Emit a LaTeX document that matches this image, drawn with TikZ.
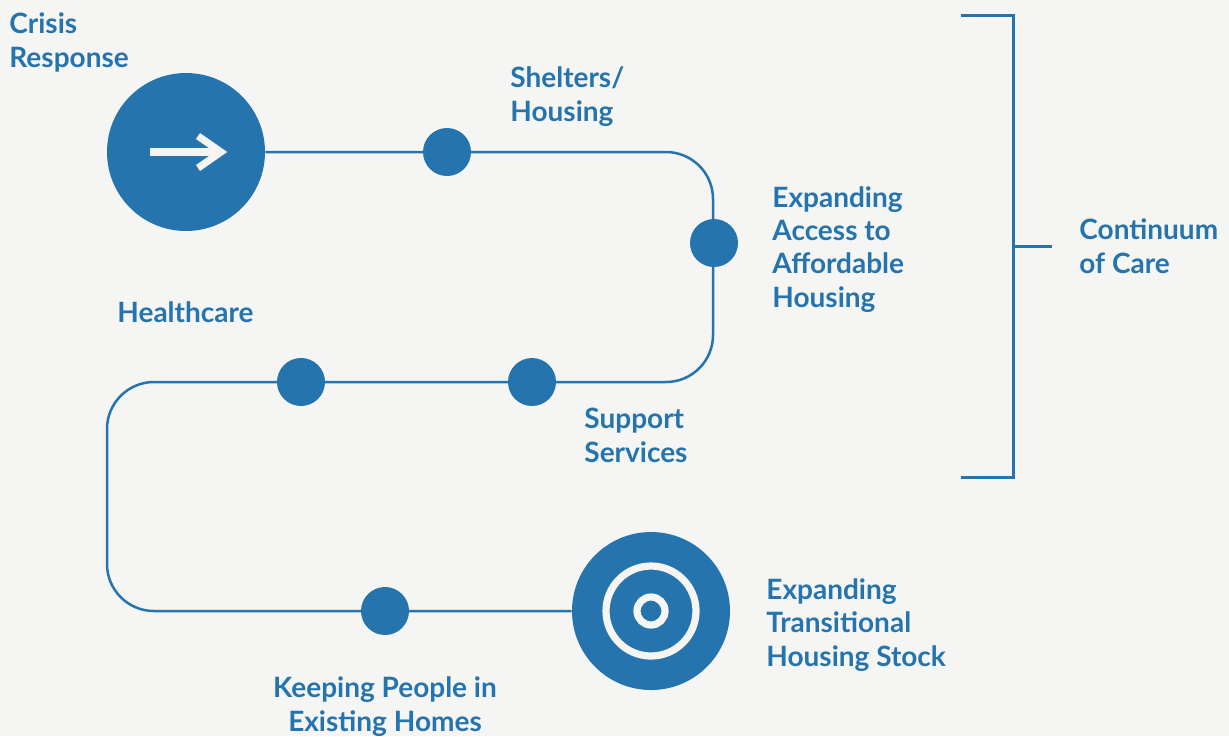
\documentclass[tikz,border=0pt]{standalone}
\usepackage{fontspec}
\setmainfont{Lato}
\definecolor{cblue}{HTML}{2574AD}
\definecolor{bg}{HTML}{F5F5F3}
\begin{document}
\begin{tikzpicture}[x=0.5pt,y=-0.5pt,
  lbl/.style={inner sep=0pt, anchor=base west, align=left, text=cblue,
    font=\fontsize{14}{16.6}\selectfont\bfseries},
  bigdot/.style={circle, fill=cblue, minimum size=79pt, inner sep=0pt},
  dot/.style={circle, fill=cblue, minimum size=24pt, inner sep=0pt},
  route/.style={draw=cblue, line width=1.25pt, rounded corners=23.5pt},
  brk/.style={draw=cblue, line width=1.5pt},
  whiteline/.style={draw=bg, line width=3.6pt}]
\fill[bg] (0,0) rectangle (1229,736);
\useasboundingbox (0,0) rectangle (1229,736);

\node[bigdot] (c1) at (186,152) {};
\node[bigdot] (c2) at (651,611) {};
\coordinate (p1) at (713,152);
\coordinate (p2) at (713,382);
\coordinate (p3) at (107,382);
\coordinate (p4) at (107,611);
\draw[route] (c1.east) -- (p1) -- (p2) -- (p3) -- (p4) -- (c2.west);

\node[dot] (d1) at (447,152) {};
\node[dot] (d2) at (714,243) {};
\node[dot] (d3) at (532,382) {};
\node[dot] (d4) at (301,382) {};
\node[dot] (d5) at (385,611) {};

% arrow icon
\coordinate (a1) at (150,152);
\coordinate (a2) at (219,152);
\coordinate (h1) at (198,136);
\coordinate (h2) at (198,168);
\draw[whiteline] (a1) -- (a2);
\draw[whiteline, miter limit=10] (h1) -- (221,152) -- (h2);

% target icon
\draw[whiteline] (c2.center) circle[radius=45];
\draw[whiteline] (c2.center) circle[radius=14];

% bracket
\coordinate (b1) at (961,15);
\coordinate (b2) at (1013,15);
\coordinate (b3) at (1013,477);
\coordinate (b4) at (961,477);
\coordinate (t1) at (1013,246);
\coordinate (t2) at (1052,246);
\draw[brk] (b1) -- (b2) -- (b3) -- (b4);
\draw[brk] (t1) -- (t2);

% labels (anchor = baseline of the last line)
\node[lbl] (crisis) at (9,67) {Crisis\\Response};
\node[lbl] (shelters) at (510,121) {Shelters/\\Housing};
\node[lbl] (access) at (772,307) {Expanding\\Access to\\Affordable\\Housing};
\node[lbl] (continuum) at (1079,273) {Continuum\\of Care};
\node[lbl] (health) at (117,322) {Healthcare};
\node[lbl] (support) at (584,462) {Support\\Services};
\node[lbl] (trans) at (766,666) {Expanding\\Transitional\\Housing Stock};
\node[lbl, anchor=base, align=center] (keep) at (385,731) {Keeping People in\\Existing Homes};
\end{tikzpicture}
\end{document}
